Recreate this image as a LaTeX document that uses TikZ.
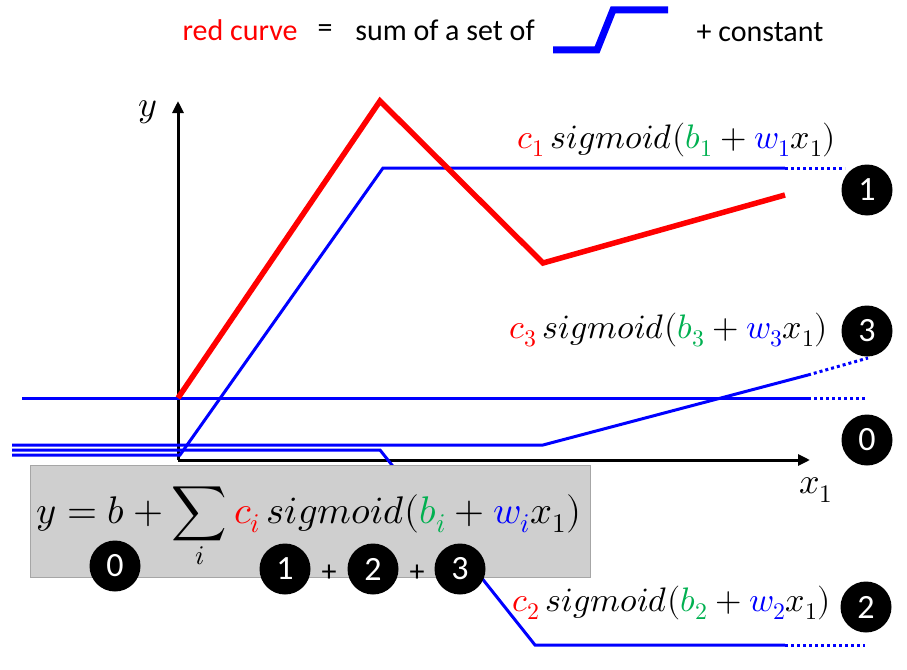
\documentclass[tikz,border=0pt]{standalone}
\usepackage{fontspec}
\usepackage{unicode-math}
\setmainfont{Carlito}
\setmathfont{Latin Modern Math}
\usetikzlibrary{arrows.meta,positioning}
\definecolor{Curve}{HTML}{FF0000}
\definecolor{Hard}{HTML}{0000FF}
\definecolor{Bias}{HTML}{00B050}
\definecolor{BoxFill}{HTML}{CFCFCF}
\definecolor{BoxLine}{HTML}{A6A6A6}
\tikzset{
 axis/.style={-{Triangle[length=12pt,width=11pt]}, line width=3pt},
 redline/.style={draw=Curve, line width=5.5pt},
 hardline/.style={draw=Hard, line width=3pt},
 tail/.style={draw=Hard, line width=3pt, dash pattern=on 3pt off 3pt},
 numdot/.style={circle, fill=black, text=white, minimum size=51pt, inner sep=0pt, font=\fontsize{34}{34}\selectfont},
 titletext/.style={inner sep=0pt, font=\fontsize{30}{33}\selectfont},
 sigtext/.style={inner sep=0pt, font=\fontsize{34}{36}\selectfont}
}
\newcommand{\sigterm}[1]{$\textcolor{Curve}{c_#1}\,sigmoid(\textcolor{Bias}{b_#1}+\textcolor{Hard}{w_#1}x_1)$}

\begin{document}
\begin{tikzpicture}[x=1pt,y=-1pt]
\useasboundingbox (0,0) rectangle (907,669);
% title line
\node[titletext,text=Curve] (redtxt) at (240,30) {red curve};
\node[titletext] (eqtxt) at (325,31) {=};
\node[titletext] (sumtxt) at (445,30) {sum of a set of};
\node[titletext] (consttxt) at (760,32) {+ constant};
\draw[Hard, line width=7pt] (553,50) -- (597,50) -- (613,10) -- (668,10);
% axes
\coordinate (O) at (178,460);
\draw[axis] (O) -- (178,101) coordinate (ytip);
\draw[axis] (O) -- (810,460) coordinate (xtip);
\node[font=\fontsize{36}{36}\selectfont] (ylab) at (148,112) {$y$};
\node[font=\fontsize{36}{36}\selectfont] (xlab) at (816,490) {$x_1$};
% constant 0
\draw[hardline] (22,398) -- (808,398) coordinate (c0);
\draw[tail] (c0) -- (865,398);
% sigmoid 3
\draw[hardline] (12,445) -- (543,445) -- (808,375) coordinate (c3);
\draw[tail] (c3) -- (868,358);
% sigmoid 1
\draw[hardline] (12,455) -- (180,455) -- (383,168) -- (785,168) coordinate (c1);
\draw[tail] (c1) -- (845,168);
% sigmoid 2
\draw[hardline] (12,450) -- (380,450) -- (535,645) -- (785,645) coordinate (c2);
\draw[tail] (c2) -- (865,645);
% red curve
\draw[redline] (178,398) -- (380,101) -- (543,263) -- (785,195);
% labels
\node[sigtext] (lab1) at (677,140) {\sigterm{1}};
\node[sigtext] (lab3) at (669,330) {\sigterm{3}};
\node[sigtext] (lab2) at (672,603) {\sigterm{2}};
\node[numdot] (n1) at (867,190) {1};
\node[numdot] (n3) at (867,331) {3};
\node[numdot] (n0) at (867,440) {0};
\node[numdot] (n2) at (866,607) {2};
% formula box
\node[draw=BoxLine, fill=BoxFill, line width=1pt, minimum width=560pt, minimum height=112pt, anchor=north west] (box) at (30,465) {};
\node[font=\fontsize{38.5}{42}\selectfont] (formula) at (309,528) {$\displaystyle y=b+\sum_i \textcolor{Curve}{c_i}\,sigmoid(\textcolor{Bias}{b_i}+\textcolor{Hard}{w_i}x_1)$};
\node[numdot] (m0) at (115,566) {0};
\node[numdot] (m1) at (285,569) {1};
\node[numdot] (m2) at (373,569) {2};
\node[numdot] (m3) at (460,569) {3};
\node[font=\fontsize{30}{30}\selectfont] (plusa) at (329,573) {+};
\node[font=\fontsize{30}{30}\selectfont] (plusb) at (417,573) {+};
\end{tikzpicture}
\end{document}
